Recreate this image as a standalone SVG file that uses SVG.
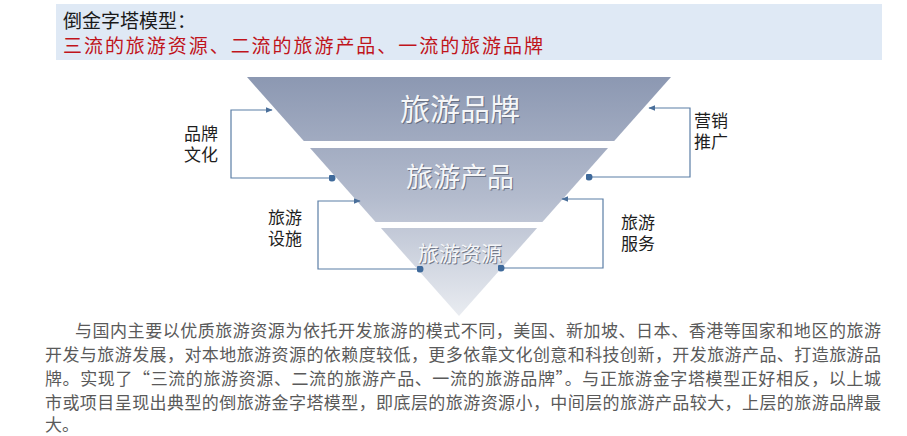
<svg xmlns="http://www.w3.org/2000/svg" width="907" height="436" viewBox="0 0 907 436">
<defs>
<linearGradient id="pyr" gradientUnits="userSpaceOnUse" x1="0" y1="77" x2="0" y2="316">
<stop offset="0" stop-color="#8c98b2"/>
<stop offset="0.5" stop-color="#b3bbcd"/>
<stop offset="1" stop-color="#e9ecf1"/>
</linearGradient>
<marker id="arr" viewBox="0 0 10 10" refX="9" refY="5" markerWidth="7" markerHeight="7" markerUnits="userSpaceOnUse" orient="auto">
<path d="M0,1 L10,5 L0,9 Z" fill="#4a6f9a"/>
</marker>
<marker id="dot" viewBox="0 0 10 10" refX="5" refY="5" markerWidth="7" markerHeight="7" markerUnits="userSpaceOnUse">
<circle cx="5" cy="5" r="5" fill="#3f6a9b"/>
</marker>
</defs>
<style>
.cjk{font-family:"Noto Sans CJK SC","Noto Sans",sans-serif}
.lbl{font-size:17px;fill:#1e1e1e}
.band{fill:#f5f6f8;text-anchor:middle}
.shadow{fill:#5d6475;text-anchor:middle;opacity:0.8}
.body{font-size:17px;fill:#5a5a5a}
.conn{fill:none;stroke:#5b7ea6;stroke-width:1.2}
</style>
<rect width="907" height="436" fill="#ffffff"/>
<g id="header">
<rect x="56" y="4" width="826" height="56" fill="#dfe9f5"/>
<text class="cjk" x="63" y="28" font-size="19" fill="#1a1a1a">倒金字塔模型：</text>
<text class="cjk" x="63" y="53" font-size="19" fill="#c0141b" textLength="480" lengthAdjust="spacing">三流的旅游资源、二流的旅游产品、一流的旅游品牌</text>
</g>
<g id="brand">
<polygon points="247,77 671,77 614.2,141 303.8,141" fill="url(#pyr)"/>
<text class="cjk shadow" x="461" y="121" font-size="30">旅游品牌</text>
<text class="cjk band" x="460" y="120" font-size="30">旅游品牌</text>
</g>
<g id="product">
<polygon points="310,148 608,148 542.4,222 375.6,222" fill="url(#pyr)"/>
<text class="cjk shadow" x="461" y="188" font-size="27">旅游产品</text>
<text class="cjk band" x="460" y="187" font-size="27">旅游产品</text>
</g>
<g id="resource">
<polygon points="380.9,228 537.1,228 459,316" fill="url(#pyr)"/>
<text class="cjk shadow" x="461" y="262" font-size="21" opacity="0.5">旅游资源</text>
<text class="cjk band" x="460" y="261" font-size="21">旅游资源</text>
</g>
<g id="connectors">
<polyline class="conn" points="332,178 231,178 231,110 272,110" marker-start="url(#dot)" marker-end="url(#arr)"/>
<polyline class="conn" points="420,269 318,269 318,201 360,201" marker-start="url(#dot)" marker-end="url(#arr)"/>
<polyline class="conn" points="589,177 690,177 690,108 649,108" marker-start="url(#dot)" marker-end="url(#arr)"/>
<polyline class="conn" points="501,268 603,268 603,199 562,199" marker-start="url(#dot)" marker-end="url(#arr)"/>
</g>
<g id="label-brand-culture">
<text class="cjk lbl" x="184" y="140">品牌<tspan x="184" dy="21">文化</tspan></text>
</g>
<g id="label-facilities">
<text class="cjk lbl" x="268" y="224">旅游<tspan x="268" dy="21">设施</tspan></text>
</g>
<g id="label-marketing">
<text class="cjk lbl" x="694" y="127">营销<tspan x="694" dy="21">推广</tspan></text>
</g>
<g id="label-service">
<text class="cjk lbl" x="621" y="229">旅游<tspan x="621" dy="21">服务</tspan></text>
</g>
<g id="paragraph">
<text class="cjk body" x="75" y="337" textLength="806" lengthAdjust="spacing">与国内主要以优质旅游资源为依托开发旅游的模式不同，美国、新加坡、日本、香港等国家和地区的旅游</text>
<text class="cjk body" x="45" y="361" textLength="836" lengthAdjust="spacing">开发与旅游发展，对本地旅游资源的依赖度较低，更多依靠文化创意和科技创新，开发旅游产品、打造旅游品</text>
<text class="cjk body" x="45" y="385" textLength="836" lengthAdjust="spacing">牌。实现了“三流的旅游资源、二流的旅游产品、一流的旅游品牌”。与正旅游金字塔模型正好相反，以上城</text>
<text class="cjk body" x="45" y="409" textLength="836" lengthAdjust="spacing">市或项目呈现出典型的倒旅游金字塔模型，即底层的旅游资源小，中间层的旅游产品较大，上层的旅游品牌最</text>
<text class="cjk body" x="45" y="431">大。</text>
</g>
</svg>
